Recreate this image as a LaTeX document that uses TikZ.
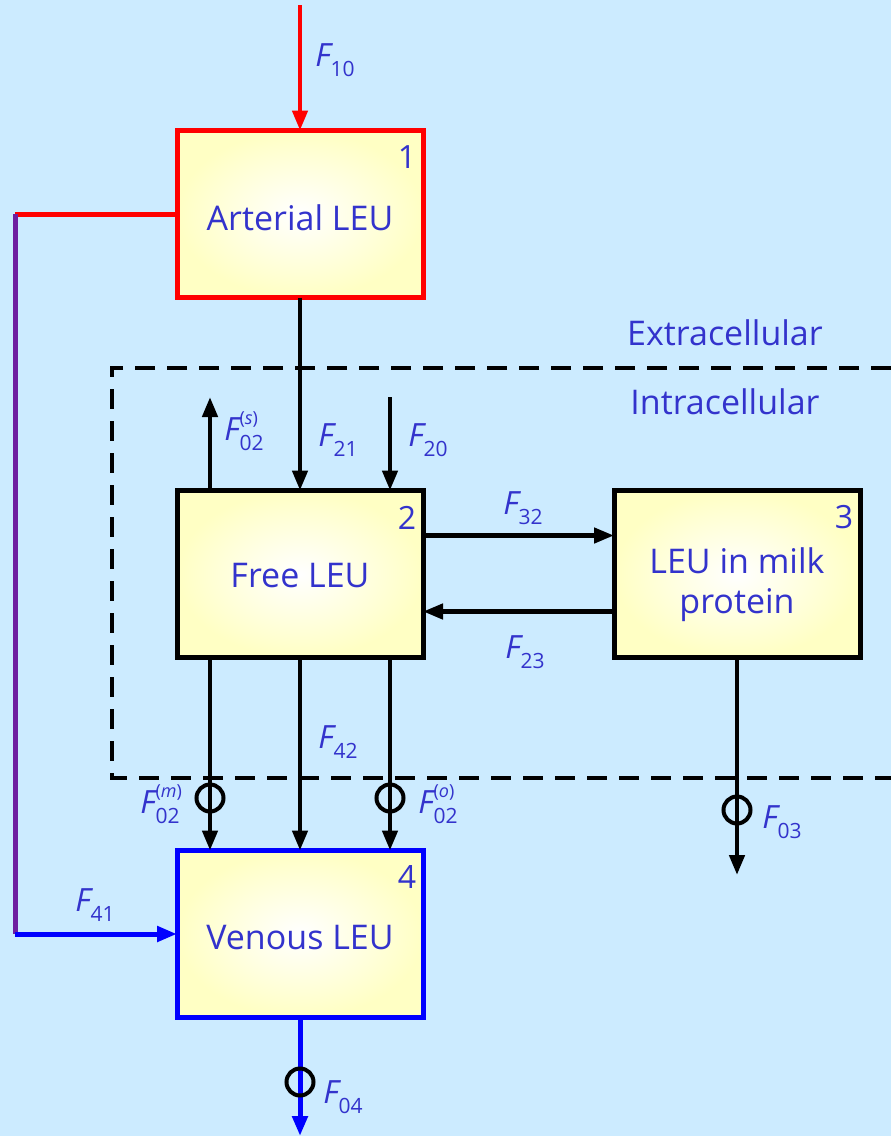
\documentclass[tikz,border=0pt]{standalone}
\usepackage{fontspec}
\setmainfont{Open Sans}
\usetikzlibrary{arrows.meta,calc}
\definecolor{bg}{RGB}{204,235,255}
\definecolor{txt}{RGB}{51,51,204}
\definecolor{boxyel}{RGB}{255,255,196}
\definecolor{myred}{RGB}{255,0,0}
\definecolor{myblue}{RGB}{0,0,255}
\definecolor{mypurple}{RGB}{110,30,160}
\newcommand\Fsub[1]{{\itshape F}\raisebox{-0.3em}{\fontsize{21}{21}\selectfont #1}}
\newcommand\Fsupsub[2]{{\itshape F}\rlap{\raisebox{0.5em}{\fontsize{18}{18}\selectfont(\textit{#2})}}\raisebox{-0.3em}{\fontsize{21}{21}\selectfont #1}}
\tikzset{
  box/.style={line width=5pt, inner color=white, outer color=boxyel,
    minimum width=246pt, minimum height=167pt, outer sep=0pt},
  boxtxt/.style={text=txt, font=\fontsize{34}{40}\selectfont, align=center, inner sep=0pt},
  num/.style={text=txt, font=\fontsize{32}{32}\selectfont, inner sep=0pt},
  lbl/.style={text=txt, font=\fontsize{32}{32}\selectfont, inner sep=0pt},
  region/.style={text=txt, font=\fontsize{34}{34}\selectfont, inner sep=0pt},
  flow/.style={line width=4.5pt, -{Triangle[length=20pt,width=15pt]}},
  valve/.style={circle, draw=black, line width=4pt, minimum size=27pt, inner sep=0pt, fill=none}
}
\begin{document}
\begin{tikzpicture}[x=1pt,y=-1pt]
\fill[bg] (0,0) rectangle (891,1136);
\useasboundingbox (0,0) rectangle (891,1136);

% dashed compartment boundary
\draw[line width=4.5pt, dash pattern=on 20pt off 12pt] (891,368) -- (112,368) -- (112,778) -- (891,778);
\node[region] (extra) at (725,333) {Extracellular};
\node[region] (intra) at (725,402) {Intracellular};

% boxes
\node[box, draw=myred] (b1) at (300,214) {};
\node[box, draw=black] (b2) at (300,574) {};
\node[box, draw=black] (b3) at (737,574) {};
\node[box, draw=myblue] (b4) at (300,934) {};
\node[boxtxt] (t1) at ($(b1.center)+(0,4)$) {Arterial LEU};
\node[boxtxt] (t2) at ($(b2.center)+(0,2)$) {Free LEU};
\node[boxtxt] (t3) at ($(b3.center)+(0,11)$) {LEU in milk\\protein};
\node[boxtxt] (t4) at ($(b4.center)+(0,4)$) {Venous LEU};

\node[num] (n1) at ($(b1.north east)+(-16,27)$) {1};
\node[num] (n2) at ($(b2.north east)+(-16,27)$) {2};
\node[num] (n3) at ($(b3.north east)+(-16,27)$) {3};
\node[num] (n4) at ($(b4.north east)+(-16,27)$) {4};

% coordinates
\coordinate (f10s) at (300,5);
\coordinate (lc1) at (15,214);
\coordinate (lc2) at (15,934);
\coordinate (f20s) at (390,397);
\coordinate (f02s) at (210,397);
\coordinate (f03e) at (737,875);
\coordinate (f04e) at (300,1136);
\coordinate (xm) at (210,0);
\coordinate (xo) at (390,0);

% F10
\draw[flow, draw=myred, fill=myred] (f10s) -- (b1.north);
% arterial to venous shunt
\draw[line width=5pt, myred] (b1.west) -- (lc1);
\draw[line width=5pt, mypurple] (lc1) -- (lc2);
\draw[flow, line width=5pt, myblue] (lc2) -- (b4.west);
% F21
\draw[flow] (b1.south) -- (b2.north);
% F20
\draw[flow] (f20s) -- (f20s |- b2.north);
% F02s
\draw[flow] (f02s |- b2.north) -- (f02s);
% F32, F23
\draw[flow] ($(b2.north east)+(0,45)$) -- ($(b3.north west)+(0,45)$);
\draw[flow] ($(b3.south west)+(0,-46)$) -- ($(b2.south east)+(0,-46)$);
% free to venous
\draw[flow] (xm |- b2.south) -- (xm |- b4.north);
\draw[flow] (b2.south) -- (b4.north);
\draw[flow] (xo |- b2.south) -- (xo |- b4.north);
\node[valve] (vm) at (210,798) {};
\node[valve] (vo) at (390,798) {};
% F03
\draw[flow] (b3.south) -- (f03e);
\node[valve] (v3) at (737,810) {};
% F04
\draw[flow, line width=5pt, myblue] (b4.south) -- (f04e);
\node[valve] (v4) at (300,1082) {};

% labels
\node[lbl] (l10) at (335,60) {\Fsub{10}};
\node[lbl] (l21) at (338,440) {\Fsub{21}};
\node[lbl] (l20) at (428,440) {\Fsub{20}};
\node[lbl] (l02s) at (244,431) {\Fsupsub{02}{s}};
\node[lbl] (l32) at (523,508) {\Fsub{32}};
\node[lbl] (l23) at (525,652) {\Fsub{23}};
\node[lbl] (l42) at (338,742) {\Fsub{42}};
\node[lbl] (l02m) at (160,804) {\Fsupsub{02}{m}};
\node[lbl] (l02o) at (438,804) {\Fsupsub{02}{o}};
\node[lbl] (l03) at (782,822) {\Fsub{03}};
\node[lbl] (l41) at (95,905) {\Fsub{41}};
\node[lbl] (l04) at (343,1097) {\Fsub{04}};
\end{tikzpicture}
\end{document}
